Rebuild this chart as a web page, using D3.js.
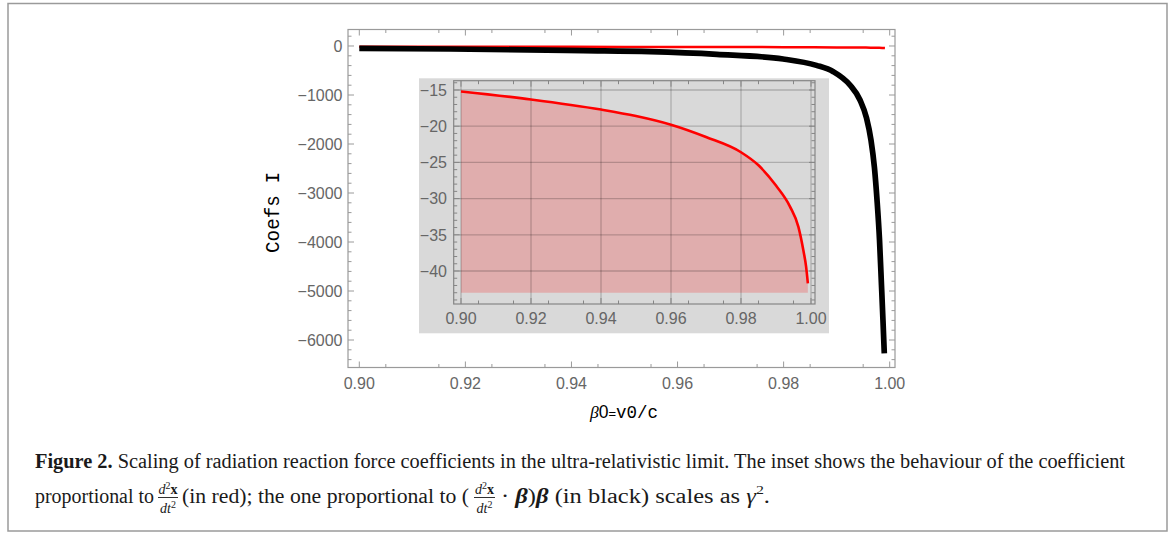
<!DOCTYPE html>
<html>
<head>
<meta charset="utf-8">
<script src="https://cdn.jsdelivr.net/npm/d3@7"></script>
<style>
  body { margin: 0; background: #fff; }
  svg { display: block; }
</style>
</head>
<body>
<div id="chart"></div>
<script>
// coefficient proportional to (d2x/dt2 . beta) beta  (black)
const betaBlack = [0.9, 0.9171, 0.9422, 0.9548, 0.9674, 0.9799, 0.9862, 0.98937, 0.99251, 0.9944,
  0.99563, 0.99647, 0.99713, 0.99761, 0.99808, 0.99845, 0.99873, 0.99898];
const coefBlack = [-47, -61, -96, -116, -170, -265, -395, -524, -796, -1102,
  -1469, -1918, -2490, -3143, -3959, -4878, -5592, -6271];

// coefficient proportional to d2x/dt2 (red)
const betaRed = [0.9, 0.92, 0.94, 0.95, 0.96, 0.97, 0.98, 0.985, 0.99, 0.994, 0.9964, 0.9978, 0.9986, 0.9991];
const coefRed = [-15.2, -16.3, -17.7, -18.6, -19.8, -21.5, -23.6, -25.4, -28.2, -31.1, -33.9, -37.1, -39.4, -41.7];

// ticks
const xTicks = [0.90, 0.92, 0.94, 0.96, 0.98, 1.00];
const mainYTicks = [0, -1000, -2000, -3000, -4000, -5000, -6000];
const insetYTicks = [-15, -20, -25, -30, -35, -40];
const insetFillBase = -43;

const black = betaBlack.map((b, i) => ({ b, v: coefBlack[i] }));
const red = betaRed.map((b, i) => ({ b, v: coefRed[i] }));

// svg領域
const svg = d3.select('#chart')
  .append('svg')
  .attr('width', 1170)
  .attr('height', 533);

svg.append('rect')
  .attr('x', 8).attr('y', 3.5)
  .attr('width', 1159).attr('height', 527.5)
  .attr('fill', '#fff')
  .attr('stroke', '#9a9a9a')
  .attr('stroke-width', 1.5);

const fmtX = d3.format('.2f');
const fmtY = d3.format('d');

// frame with inward ticks on all four sides
function drawFrame(g, x, y, xMajor, xMinor, yMajor, yMinor, color) {
  const [xa, xb] = x.range();
  const [ya, yb] = y.range();
  const segs = [];
  xMajor.forEach(v => { segs.push([x(v), ya, x(v), ya - 6]); segs.push([x(v), yb, x(v), yb + 6]); });
  xMinor.forEach(v => { segs.push([x(v), ya, x(v), ya - 3.5]); segs.push([x(v), yb, x(v), yb + 3.5]); });
  yMajor.forEach(v => { segs.push([xa, y(v), xa + 6, y(v)]); segs.push([xb, y(v), xb - 6, y(v)]); });
  yMinor.forEach(v => { segs.push([xa, y(v), xa + 3.5, y(v)]); segs.push([xb, y(v), xb - 3.5, y(v)]); });
  g.append('g')
    .selectAll('line')
    .data(segs)
    .join('line')
    .attr('x1', d => d[0]).attr('y1', d => d[1])
    .attr('x2', d => d[2]).attr('y2', d => d[3])
    .attr('stroke', color)
    .attr('stroke-width', 1);
  g.append('rect')
    .attr('x', xa).attr('y', yb)
    .attr('width', xb - xa).attr('height', ya - yb)
    .attr('fill', 'none')
    .attr('stroke', color)
    .attr('stroke-width', 1.2);
}

function tickLabels(g, x, y, xMajor, yMajor, xLabelY, yLabelX, fy) {
  g.append('g')
    .selectAll('text')
    .data(xMajor)
    .join('text')
    .attr('x', d => x(d))
    .attr('y', xLabelY)
    .attr('text-anchor', 'middle')
    .text(d => fmtX(d));
  g.append('g')
    .selectAll('text')
    .data(yMajor)
    .join('text')
    .attr('x', yLabelX)
    .attr('y', d => y(d))
    .attr('dy', '0.36em')
    .attr('text-anchor', 'end')
    .text(d => fy(d));
}

// メイングラフ
const main = svg.append('g')
  .attr('font-family', '"Liberation Sans", Arial, sans-serif')
  .attr('font-size', 16)
  .attr('fill', '#666');

const xMain = d3.scaleLinear().domain([0.89787, 1.000999]).range([348, 895]);
const yMain = d3.scaleLinear().domain([-6561, 336.7]).range([367.5, 29.5]);

const lineMain = d3.line()
  .x(d => xMain(d.b))
  .y(d => yMain(d.v))
  .curve(d3.curveMonotoneX);

main.append('path')
  .datum(red)
  .attr('d', lineMain)
  .attr('fill', 'none')
  .attr('stroke', '#ff0000')
  .attr('stroke-width', 2.5);

main.append('path')
  .datum(black)
  .attr('d', lineMain)
  .attr('fill', 'none')
  .attr('stroke', '#000')
  .attr('stroke-width', 5.7)
  .attr('stroke-linecap', 'butt');

const xMinorMain = d3.range(0.905, 1.0, 0.01);
const yMinorMain = d3.range(200, -6500, -200).filter(v => v % 1000 !== 0);
drawFrame(main, xMain, yMain, xTicks, xMinorMain, mainYTicks, yMinorMain, '#9a9a9a');
tickLabels(main, xMain, yMain, xTicks, mainYTicks, 388.5, 342.5, fmtY);

// 軸ラベル
svg.append('text')
  .attr('transform', 'translate(279,212.5) rotate(-90)')
  .attr('text-anchor', 'middle')
  .attr('font-family', '"Liberation Mono", "Courier New", monospace')
  .attr('font-size', 19.3)
  .attr('fill', '#000')
  .text('Coefs I');

const xLab = svg.append('text')
  .attr('x', 624)
  .attr('y', 418)
  .attr('text-anchor', 'middle')
  .attr('font-size', 17.5)
  .attr('fill', '#000');
xLab.append('tspan').attr('font-family', '"Liberation Serif", serif').attr('font-style', 'italic').text('β');
xLab.append('tspan').attr('font-family', '"Liberation Sans", sans-serif').text('0');
xLab.append('tspan').attr('font-family', '"Liberation Sans", sans-serif').attr('font-size', 13).text('=');
xLab.append('tspan').attr('font-family', '"Liberation Mono", monospace').text('v0/c');

// インセット
const inset = svg.append('g')
  .attr('font-family', '"Liberation Sans", Arial, sans-serif')
  .attr('font-size', 16)
  .attr('fill', '#666');

inset.append('rect')
  .attr('x', 419).attr('y', 78.3)
  .attr('width', 410).attr('height', 255)
  .attr('fill', '#d9d9d9');

const xIn = d3.scaleLinear().domain([0.897914, 1.001143]).range([453.7, 815]);
const yIn = d3.scaleLinear().domain([-44.558, -13.715]).range([304, 80.7]);

inset.append('path')
  .datum(red)
  .attr('d', d3.area()
    .x(d => xIn(d.b))
    .y0(yIn(insetFillBase))
    .y1(d => yIn(d.v))
    .curve(d3.curveMonotoneX))
  .attr('fill', 'rgba(255,0,0,0.2)');

// グリッド
const grid = inset.append('g')
  .attr('stroke', 'rgba(0,0,0,0.2)')
  .attr('stroke-width', 1.3);
grid.selectAll('line.v')
  .data(xTicks)
  .join('line')
  .attr('class', 'v')
  .attr('x1', d => xIn(d)).attr('x2', d => xIn(d))
  .attr('y1', 80.7).attr('y2', 304);
grid.selectAll('line.h')
  .data(insetYTicks)
  .join('line')
  .attr('class', 'h')
  .attr('x1', 453.7).attr('x2', 815)
  .attr('y1', d => yIn(d)).attr('y2', d => yIn(d));

inset.append('path')
  .datum(red)
  .attr('d', d3.line()
    .x(d => xIn(d.b))
    .y(d => yIn(d.v))
    .curve(d3.curveMonotoneX))
  .attr('fill', 'none')
  .attr('stroke', '#ff0000')
  .attr('stroke-width', 2.6);

const xMinorIn = d3.range(0.905, 1.0, 0.01);
const yMinorIn = d3.range(-14, -45, -1).filter(v => v % 5 !== 0);
drawFrame(inset, xIn, yIn, xTicks, xMinorIn, insetYTicks, yMinorIn, '#858585');
tickLabels(inset, xIn, yIn, xTicks, insetYTicks, 324, 447, fmtY);

// キャプション
const cap = svg.append('g')
  .attr('font-family', '"Liberation Serif", "Times New Roman", serif')
  .attr('font-size', 20)
  .attr('fill', '#1a1a1a');

const line1 = cap.append('text')
  .attr('x', 35).attr('y', 468)
  .attr('textLength', 1090)
  .attr('lengthAdjust', 'spacingAndGlyphs');
line1.append('tspan').attr('font-weight', 'bold').text('Figure 2.');
line1.append('tspan').text(' Scaling of radiation reaction force coefficients in the ultra-relativistic limit. The inset shows the behaviour of the coefficient');

const base2 = 503;
function put(x, len) {
  return cap.append('text')
    .attr('x', x).attr('y', base2)
    .attr('textLength', len)
    .attr('lengthAdjust', 'spacingAndGlyphs');
}
function frac(x, w) {
  const num = cap.append('text').attr('x', x + w / 2).attr('y', base2 - 9)
    .attr('text-anchor', 'middle').attr('font-size', 14);
  num.append('tspan').attr('font-style', 'italic').text('d');
  num.append('tspan').attr('font-size', 10).attr('dy', -5).text('2');
  num.append('tspan').attr('font-weight', 'bold').attr('dy', 5).text('x');
  const den = cap.append('text').attr('x', x + w / 2).attr('y', base2 + 10)
    .attr('text-anchor', 'middle').attr('font-size', 14);
  den.append('tspan').attr('font-style', 'italic').text('dt');
  den.append('tspan').attr('font-size', 10).attr('dy', -5).text('2');
  cap.append('line')
    .attr('x1', x).attr('x2', x + w)
    .attr('y1', base2 - 5.5).attr('y2', base2 - 5.5)
    .attr('stroke', '#1a1a1a').attr('stroke-width', 0.9);
}

put(35, 119).text('proportional to');
frac(158, 20);
put(182, 287).text('(in red); the one proportional to (');
frac(474, 21);
const tail = put(501, 269);
tail.append('tspan').text('·  ');
tail.append('tspan').attr('font-weight', 'bold').attr('font-style', 'italic').text('β');
tail.append('tspan').text(')');
tail.append('tspan').attr('font-weight', 'bold').attr('font-style', 'italic').text('β');
tail.append('tspan').text(' (in black) scales as ');
tail.append('tspan').attr('font-style', 'italic').text('γ');
tail.append('tspan').attr('font-size', 13).attr('dy', -9).text('2');
tail.append('tspan').attr('dy', 9).text('.');
</script>
</body>
</html>
